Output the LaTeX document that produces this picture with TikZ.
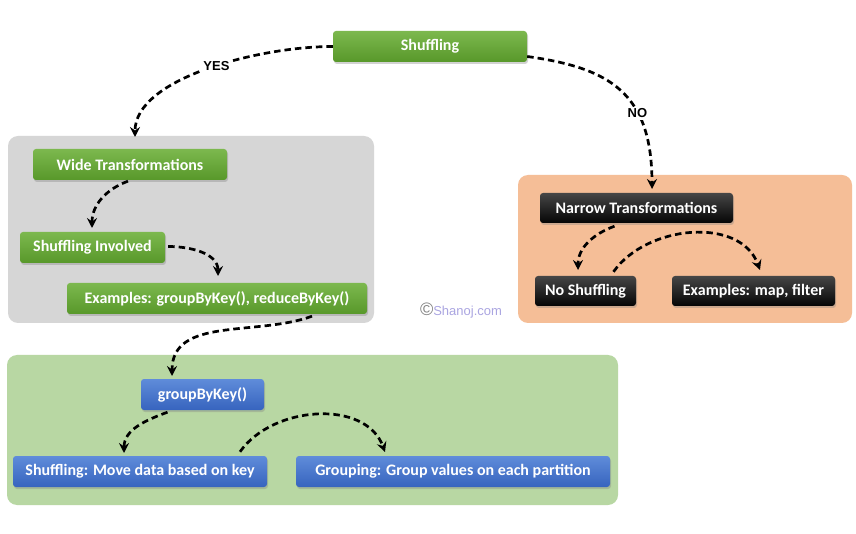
\documentclass[tikz,border=0pt]{standalone}
\usepackage{fontspec}
\setmainfont{Carlito}
\newfontfamily\labfont{Liberation Sans}
\usetikzlibrary{arrows.meta,shadows,calc}
\definecolor{grpanel}{RGB}{214,214,214}
\definecolor{orpanel}{RGB}{245,190,151}
\definecolor{gnpanel}{RGB}{184,215,163}
\definecolor{gtop}{RGB}{124,184,78}
\definecolor{gbot}{RGB}{88,152,42}
\definecolor{btop}{RGB}{95,140,218}
\definecolor{bbot}{RGB}{55,100,190}
\definecolor{ktop}{RGB}{70,70,70}
\definecolor{kbot}{RGB}{5,5,5}
\definecolor{wm}{RGB}{170,165,225}
\tikzset{
  panel/.style={rounded corners=10pt, draw=none},
  box/.style={rounded corners=3pt, draw=none, text=white, font=\bfseries\fontsize{16}{18}\selectfont,
    inner sep=0pt, drop shadow={opacity=0.35, shadow xshift=1pt, shadow yshift=-2pt}},
  gbox/.style={box, top color=gtop, bottom color=gbot},
  bbox/.style={box, top color=btop, bottom color=bbot},
  kbox/.style={box, top color=ktop, bottom color=kbot},
  conn/.style={dashed, dash pattern=on 6.5pt off 4pt, line width=2.7pt, black,
    -{Stealth[length=10pt,width=10pt,inset=3.5pt]}},
  lab/.style={font=\labfont\bfseries\fontsize{13}{15}\selectfont, fill=white, inner sep=1.5pt}
}
\begin{document}
\begin{tikzpicture}[x=1pt,y=1pt]
\fill[white] (0,0) rectangle (856,533);
\useasboundingbox (0,0) rectangle (856,533);
% panels
\fill[panel, grpanel] (8,210) rectangle (374,397);
\fill[panel, orpanel] (518,210) rectangle (852,358);
\fill[panel, gnpanel] (7,28) rectangle (618,178);
% nodes
\node[gbox, minimum width=194pt, minimum height=31pt] (shuf) at (430,486.5) {Shuffling};
\node[gbox, minimum width=194pt, minimum height=31pt] (wide) at (130,368.5) {Wide Transformations};
\node[gbox, minimum width=145pt, minimum height=31pt] (sinv) at (92.5,285.5) {Shuffling Involved};
\node[gbox, minimum width=300pt, minimum height=31pt] (exg) at (217,234.5) {Examples: groupByKey(), reduceByKey()};
\node[kbox, minimum width=193pt, minimum height=30pt] (narrow) at (636.5,325) {Narrow Transformations};
\node[kbox, minimum width=101pt, minimum height=30pt] (nosh) at (585.5,242) {No Shuffling};
\node[kbox, minimum width=163pt, minimum height=30pt] (exm) at (753.5,242) {Examples: map, filter};
\node[bbox, minimum width=123pt, minimum height=31pt] (gbk) at (202.5,138.5) {groupByKey()};
\node[bbox, minimum width=254pt, minimum height=31pt] (smove) at (140,61.5) {Shuffling: Move data based on key};
\node[bbox, minimum width=314pt, minimum height=31pt] (grp) at (453,61.5) {Grouping: Group values on each partition};
\node[font=\labfont\fontsize{13}{15}\selectfont, text=wm] (wmk) at (461,222) {{\color{gray}\fontsize{18}{18}\selectfont\textcopyright}Shanoj.com};
% connector endpoints
\coordinate (t1) at (135,396);
\coordinate (t2) at (652,344);
\coordinate (t3) at (92,305);
\coordinate (t4) at (218,257);
\coordinate (t5) at (172,157);
\coordinate (t6) at (578,263);
\coordinate (t7) at (760,263);
\coordinate (t8) at (124,80);
\coordinate (t9) at (385,81);
% connectors
\draw[conn] (shuf.west) .. controls (260,486.5) and (135,455) .. node[lab, pos=0.46] {YES} (t1);
\draw[conn] ($(shuf.east)+(0,-10)$) .. controls (610,465) and (652,440) .. node[lab, pos=0.66] {NO} (t2);
\draw[conn] ($(wide.south)+(-2,-1)$) to[out=200,in=90] (t3);
\draw[conn] ($(sinv.east)+(3,1)$) to[out=0,in=90] (t4);
\draw[conn] ($(exg.south)+(95,-2)$) to[out=200,in=90] (t5);
\draw[conn] ($(narrow.south)+(-22,-3)$) to[out=200,in=90] (t6);
\draw[conn] ($(nosh.north)+(28,4)$) to[out=55,in=110] (t7);
\draw[conn] ($(gbk.south)+(-35,-2)$) to[out=200,in=90] (t8);
\draw[conn] ($(smove.north)+(100,4)$) to[out=55,in=110] (t9);
\end{tikzpicture}
\end{document}
